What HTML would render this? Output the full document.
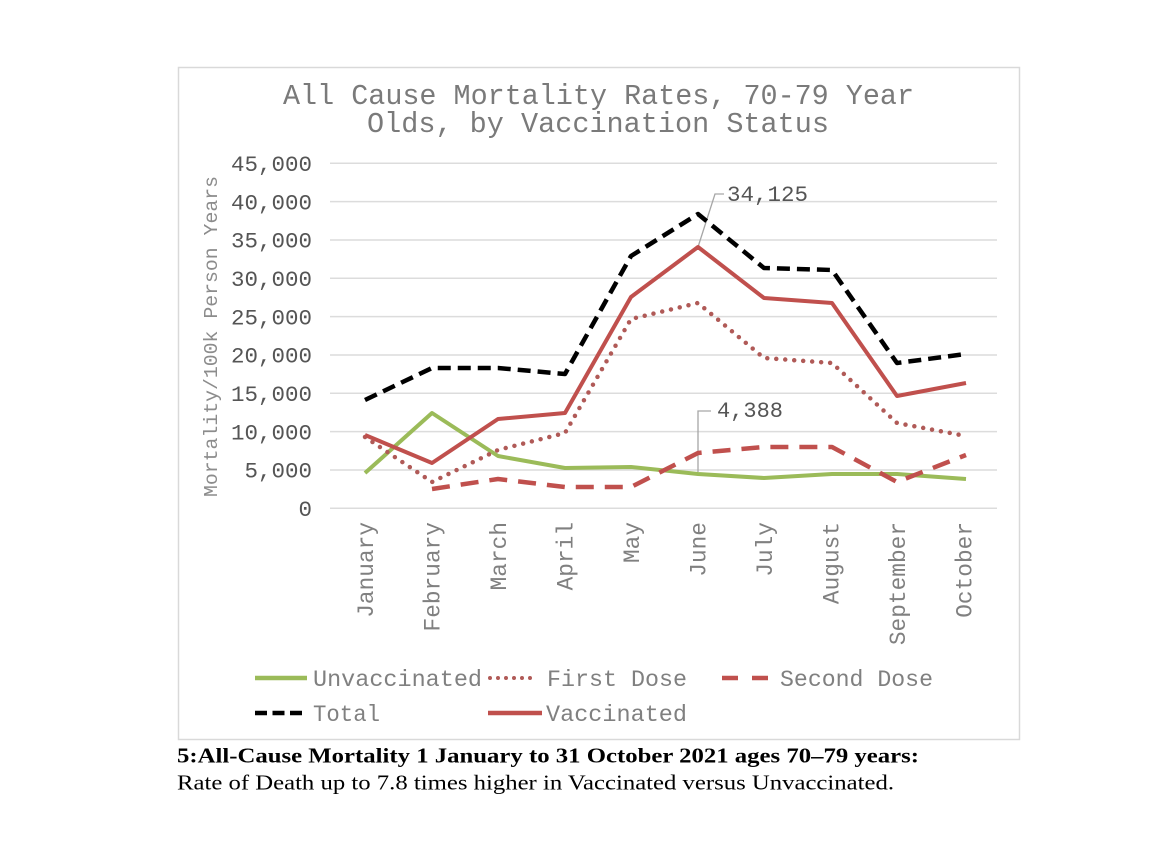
<!DOCTYPE html>
<html>
<head>
<meta charset="utf-8">
<style>
html,body{margin:0;padding:0;background:#fff;}
svg{display:block;}
.mono{font-family:"Liberation Mono","Courier New",monospace;}
.serif{font-family:"Liberation Serif","Times New Roman",serif;}
</style>
</head>
<body>
<svg width="1176" height="846" viewBox="0 0 1176 846" xmlns="http://www.w3.org/2000/svg">
<rect x="0" y="0" width="1176" height="846" fill="#fff"/>
<!-- chart border -->
<rect x="178.5" y="67.5" width="841" height="672" fill="#fff" stroke="#d9d9d9" stroke-width="1.5"/>

<!-- title -->
<text class="mono" x="598.5" y="104" font-size="28.4" fill="#7a7a7a" text-anchor="middle" textLength="631" lengthAdjust="spacingAndGlyphs">All Cause Mortality Rates, 70-79 Year</text>
<text class="mono" x="598" y="132" font-size="28.4" fill="#7a7a7a" text-anchor="middle" textLength="462" lengthAdjust="spacingAndGlyphs">Olds, by Vaccination Status</text>

<!-- gridlines -->
<g stroke="#dcdcdc" stroke-width="1.5">
<line x1="330" y1="163.3" x2="997" y2="163.3"/>
<line x1="330" y1="201.6" x2="997" y2="201.6"/>
<line x1="330" y1="240" x2="997" y2="240"/>
<line x1="330" y1="278.3" x2="997" y2="278.3"/>
<line x1="330" y1="316.6" x2="997" y2="316.6"/>
<line x1="330" y1="355" x2="997" y2="355"/>
<line x1="330" y1="393.3" x2="997" y2="393.3"/>
<line x1="330" y1="431.6" x2="997" y2="431.6"/>
<line x1="330" y1="470" x2="997" y2="470"/>
<line x1="330" y1="508.3" x2="997" y2="508.3"/>
</g>

<!-- y tick labels -->
<g class="mono" font-size="22.5" fill="#555" text-anchor="end">
<text x="312" y="171">45,000</text>
<text x="312" y="209.3">40,000</text>
<text x="312" y="247.7">35,000</text>
<text x="312" y="286">30,000</text>
<text x="312" y="324.3">25,000</text>
<text x="312" y="362.7">20,000</text>
<text x="312" y="401">15,000</text>
<text x="312" y="439.3">10,000</text>
<text x="312" y="477.7">5,000</text>
<text x="312" y="516">0</text>
</g>

<!-- y axis title -->
<text class="mono" transform="translate(217,336.5) rotate(-90)" font-size="19.8" fill="#8c8c8c" text-anchor="middle" textLength="321" lengthAdjust="spacingAndGlyphs">Mortality/100k Person Years</text>

<!-- x labels -->
<g class="mono" font-size="22.8" fill="#808080" text-anchor="end">
<text transform="translate(373,522) rotate(-90)">January</text>
<text transform="translate(439.5,522) rotate(-90)">February</text>
<text transform="translate(506,522) rotate(-90)">March</text>
<text transform="translate(572.5,522) rotate(-90)">April</text>
<text transform="translate(639,522) rotate(-90)">May</text>
<text transform="translate(705.5,522) rotate(-90)">June</text>
<text transform="translate(772,522) rotate(-90)">July</text>
<text transform="translate(838.5,522) rotate(-90)">August</text>
<text transform="translate(905,522) rotate(-90)">September</text>
<text transform="translate(971.5,522) rotate(-90)">October</text>
</g>

<!-- annotation leaders -->
<polyline points="698,247 715,194 724,194" fill="none" stroke="#a6a6a6" stroke-width="1.3"/>
<polyline points="698,472 698,411 711,411" fill="none" stroke="#a6a6a6" stroke-width="1.3"/>

<!-- series -->
<!-- Unvaccinated -->
<polyline points="365,473 432,413 498,456 565,468 631,467 698,474 764,478 832,474 897,474 966,479" fill="none" stroke="#9bbb59" stroke-width="4" stroke-linejoin="round"/>
<!-- Second dose -->
<polyline points="432,489 498,479 565,487 631,487 698,453 764,447 832,447 897,482 966,455" fill="none" stroke="#c0504d" stroke-width="4.5" stroke-dasharray="18 11" stroke-linejoin="round"/>
<!-- First dose -->
<polyline points="365,437 432,482 498,450 565,433 631,319 698,303 764,358 832,363 897,423 966,436" fill="none" stroke="#b05a57" stroke-width="4.5" stroke-dasharray="0 9" stroke-linecap="round" stroke-linejoin="round"/>
<!-- Vaccinated -->
<polyline points="365,435 432,463 498,419 565,413 631,297 698,247 764,298 832,303 897,396 966,383" fill="none" stroke="#c0504d" stroke-width="4" stroke-linejoin="round"/>
<!-- Total -->
<polyline points="365,400 432,368 498,368 565,374 631,256 698,214 764,268 832,270 897,363 966,354" fill="none" stroke="#000" stroke-width="4.5" stroke-dasharray="13 7" stroke-linejoin="round"/>

<!-- annotation text -->
<text class="mono" x="727" y="201" font-size="22.5" fill="#555" textLength="81" lengthAdjust="spacingAndGlyphs">34,125</text>
<text class="mono" x="717" y="417" font-size="22.5" fill="#555" textLength="66" lengthAdjust="spacingAndGlyphs">4,388</text>

<!-- legend -->
<line x1="255" y1="678" x2="307" y2="678" stroke="#9bbb59" stroke-width="4.5"/>
<text class="mono" x="313" y="686" font-size="23.3" fill="#808080" textLength="169" lengthAdjust="spacingAndGlyphs">Unvaccinated</text>
<line x1="490" y1="678" x2="535" y2="678" stroke="#b05a57" stroke-width="4" stroke-dasharray="0 8" stroke-linecap="round"/>
<text class="mono" x="547" y="686" font-size="23.3" fill="#808080" textLength="140" lengthAdjust="spacingAndGlyphs">First Dose</text>
<line x1="722" y1="678" x2="768" y2="678" stroke="#c0504d" stroke-width="4.5" stroke-dasharray="16 14"/>
<text class="mono" x="780" y="686" font-size="23.3" fill="#808080" textLength="153" lengthAdjust="spacingAndGlyphs">Second Dose</text>

<line x1="255" y1="713" x2="302" y2="713" stroke="#000" stroke-width="4.5" stroke-dasharray="12 5.5"/>
<text class="mono" x="313" y="721" font-size="23.3" fill="#808080" textLength="67" lengthAdjust="spacingAndGlyphs">Total</text>
<line x1="488" y1="713" x2="542" y2="713" stroke="#c0504d" stroke-width="4.5"/>
<text class="mono" x="546" y="721" font-size="23.3" fill="#808080" textLength="141" lengthAdjust="spacingAndGlyphs">Vaccinated</text>

<!-- caption -->
<text class="serif" x="177" y="762.5" font-size="21" font-weight="bold" fill="#000" textLength="742" lengthAdjust="spacingAndGlyphs">5:All-Cause Mortality 1 January to 31 October 2021 ages 70–79 years:</text>
<text class="serif" x="177" y="789.5" font-size="21.5" fill="#000" textLength="717" lengthAdjust="spacingAndGlyphs">Rate of Death up to 7.8 times higher in Vaccinated versus Unvaccinated.</text>
</svg>
</body>
</html>
